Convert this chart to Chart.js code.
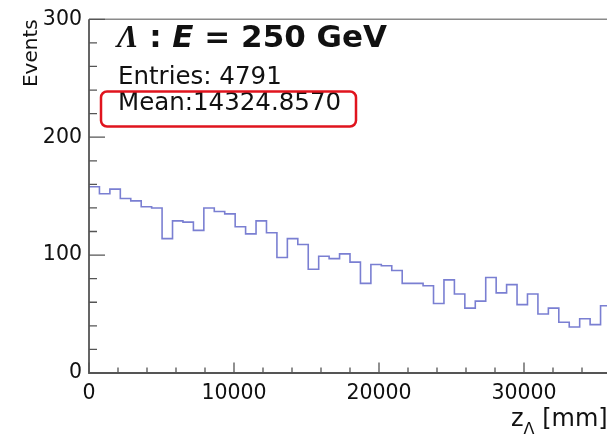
<!DOCTYPE html>
<html>
<head>
<meta charset="utf-8">
<script src="https://cdn.jsdelivr.net/npm/chart.js@4.4.0/dist/chart.umd.min.js"></script>
<style>
  html, body { margin: 0; padding: 0; background: #fff; overflow: hidden; }
  #wrap { position: relative; width: 620px; height: 437px; }
</style>
</head>
<body>
<div id="wrap"><canvas id="myChart"></canvas></div>
<script>
// 히스토그램 데이터 (0 ~ 36000 mm, 50 bins)
const binWidth = 720;
const counts = [158, 152, 156, 148, 146, 141, 140, 114, 129, 128,
                121, 140, 137, 135, 124, 118, 129, 119, 98, 114,
                109, 88, 99, 97, 101, 94, 76, 92, 91, 87,
                76, 76, 74, 59, 79, 67, 55, 61, 81, 68,
                75, 58, 67, 50, 55, 43, 39, 46, 41, 57];
const xTicks = [0, 10000, 20000, 30000];
const yTicks = [0, 100, 200, 300];
const entries = 4791;
const meanValue = '14324.8570';

// 계단 그래프용 점: 각 bin 왼쪽 끝 + 마지막 오른쪽 끝
const points = counts.map((c, i) => ({ x: i * binWidth, y: c }));
points.push({ x: counts.length * binWidth, y: counts[counts.length - 1] });

const ctx = document.querySelector('#myChart').getContext('2d');
const SANS = '"DejaVu Sans", sans-serif';

// 안쪽 눈금, 프레임, 글자를 그리는 플러그인
const rootStyle = {
    id: 'rootStyle',
    afterDraw(chart) {
        const c = chart.ctx;
        const { left, right, top, bottom } = chart.chartArea;
        const xs = chart.scales.x, ys = chart.scales.y;
        c.save();
        // 프레임
        c.strokeStyle = '#8a8a8a';
        c.lineWidth = 1.5;
        c.beginPath();
        c.moveTo(left, top); c.lineTo(right, top); c.lineTo(right, bottom);
        c.stroke();
        // 축
        c.strokeStyle = '#555';
        c.lineWidth = 1.8;
        c.beginPath();
        c.moveTo(left, top); c.lineTo(left, bottom); c.lineTo(right, bottom);
        c.stroke();
        // x 눈금
        c.lineWidth = 1.3;
        c.beginPath();
        for (let v = 0; v <= xs.max; v += 2000) {
            const px = xs.getPixelForValue(v);
            const len = v % 10000 === 0 ? 10.5 : 5.5;
            c.moveTo(px, bottom); c.lineTo(px, bottom - len);
        }
        // y 눈금
        for (let v = 0; v <= ys.max; v += 20) {
            const py = ys.getPixelForValue(v);
            const len = v % 100 === 0 ? 16 : 8;
            c.moveTo(left, py); c.lineTo(left + len, py);
        }
        c.stroke();

        c.fillStyle = '#111';
        c.textBaseline = 'alphabetic';
        c.textAlign = 'left';
        // 제목
        let x = 117;
        const parts = [
            ['Λ', 'italic bold 32px "Liberation Serif", serif'],
            [' : ', 'bold 31px ' + SANS],
            ['E', 'italic bold 31px ' + SANS],
            [' = 250 GeV', 'bold 31px ' + SANS]
        ];
        parts.forEach(([t, f]) => {
            c.font = f;
            c.fillText(t, x, 47);
            x += c.measureText(t).width;
        });
        // 통계
        c.font = '24.5px ' + SANS;
        c.fillText('Entries: ' + entries, 118, 84);
        c.fillText('Mean:' + meanValue, 118, 110);
        // 빨간 상자
        c.strokeStyle = '#e0141e';
        c.lineWidth = 2.5;
        c.beginPath();
        c.roundRect(101, 91.5, 255, 35, 6);
        c.stroke();

        // y축 제목
        c.save();
        c.translate(37, top);
        c.rotate(-Math.PI / 2);
        c.textAlign = 'right';
        c.font = '20px ' + SANS;
        c.fillText('Events', 0, 0);
        c.restore();

        // x축 제목 z_Λ [mm]
        c.textAlign = 'left';
        c.font = '24px ' + SANS;
        const zx = 511;
        c.fillText('z', zx, 426);
        const zw = c.measureText('z').width;
        c.font = '16px ' + SANS;
        c.fillText('Λ', zx + zw, 434);
        const lw = c.measureText('Λ').width;
        c.font = '24px ' + SANS;
        c.fillText(' [mm]', zx + zw + lw, 426);
        c.restore();
    }
};

const chart = new Chart(ctx, {
    type: 'line',
    data: {
        datasets: [{
            data: points,
            stepped: 'before',
            borderColor: '#7a7fd2',
            borderWidth: 1.6,
            pointRadius: 0,
            fill: false
        }]
    },
    options: {
        responsive: true,
        maintainAspectRatio: false,
        animation: false,
        layout: { padding: { top: 13, right: 9, left: 0, bottom: 0 } },
        plugins: { legend: { display: false }, tooltip: { enabled: false } },
        scales: {
            x: {
                type: 'linear',
                min: 0,
                max: counts.length * binWidth,
                grid: { display: false, drawTicks: false },
                border: { display: false },
                afterFit(scale) { scale.height = 64; },
                afterBuildTicks(scale) { scale.ticks = xTicks.map(v => ({ value: v })); },
                ticks: {
                    autoSkip: false,
                    maxRotation: 0,
                    padding: 8,
                    color: '#111',
                    font: { family: 'DejaVu Sans', size: 20.5 },
                    callback: v => String(v)
                }
            },
            y: {
                min: 0,
                max: 300,
                grid: { display: false, drawTicks: false },
                border: { display: false },
                afterFit(scale) { scale.width = 89; },
                afterBuildTicks(scale) { scale.ticks = yTicks.map(v => ({ value: v })); },
                ticks: {
                    padding: 7,
                    color: '#111',
                    font: { family: 'DejaVu Sans', size: 20.5 },
                    callback: v => String(v)
                }
            }
        }
    },
    plugins: [rootStyle]
});
</script>
</body>
</html>
